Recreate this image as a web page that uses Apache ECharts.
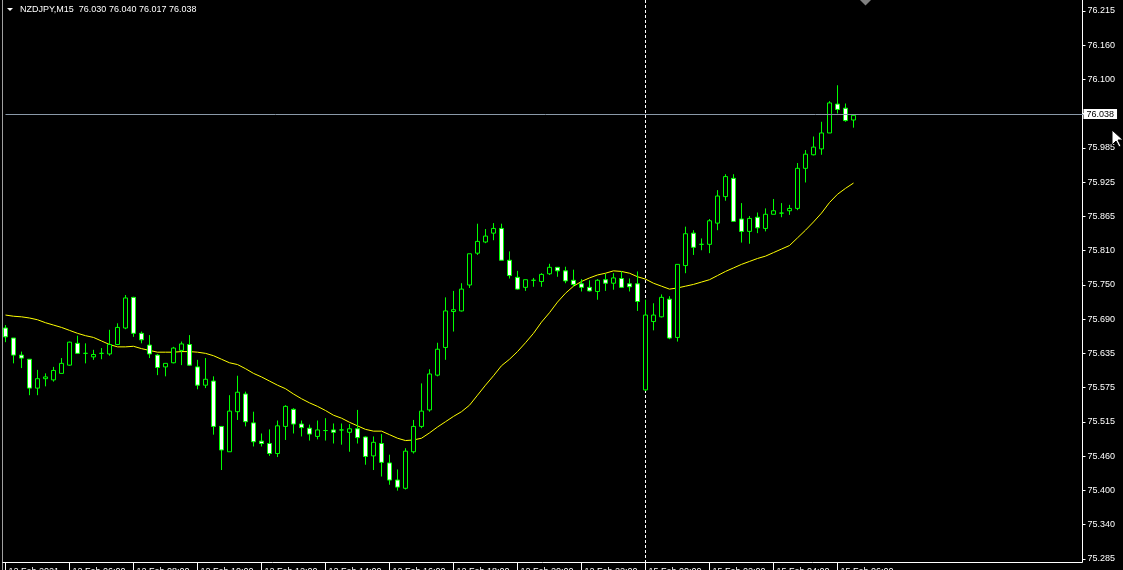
<!DOCTYPE html>
<html><head><meta charset="utf-8">
<script src="https://cdn.jsdelivr.net/npm/echarts@6/dist/echarts.min.js"></script>
<style>html,body{margin:0;padding:0;background:#000;}#c{width:1123px;height:570px;}</style>
</head><body><div id="c"></div>
<script>
const symbol = 'NZDJPY';
const timeframe = 'M15';
// trading sessions shown (day label, first bar minute-of-day, number of M15 bars)
const sessions = [
  { day: '12 Feb', startMin: 240, bars: 80 },
  { day: '15 Feb', startMin: 0, bars: 27 }
];
const futureSlots = 29;

const opens = [75.677,75.660,75.631,75.624,75.575,75.591,75.589,75.600,75.614,75.651,
75.634,75.628,75.634,75.633,75.649,75.677,75.729,75.668,75.648,75.631,
75.611,75.618,75.639,75.649,75.611,75.580,75.587,75.510,75.467,75.535,
75.565,75.516,75.485,75.481,75.464,75.510,75.539,75.514,75.507,75.493,
75.503,75.504,75.504,75.500,75.506,75.492,75.460,75.481,75.448,75.419,
75.405,75.467,75.510,75.538,75.597,75.644,75.705,75.706,75.750,75.804,
75.823,75.838,75.846,75.792,75.763,75.746,75.758,75.756,75.769,75.780,
75.774,75.758,75.752,75.746,75.739,75.759,75.753,75.761,75.752,75.752,
75.572,75.688,75.696,75.726,75.661,75.783,75.838,75.819,75.819,75.855,
75.900,75.931,75.862,75.841,75.865,75.846,75.870,75.872,75.876,75.880,
75.948,75.971,75.981,76.008,76.057,76.050,76.030];
const highs = [75.682,75.660,75.637,75.624,75.606,75.600,75.611,75.626,75.654,75.664,
75.651,75.640,75.643,75.674,75.685,75.733,75.730,75.671,75.665,75.633,
75.617,75.645,75.654,75.665,75.623,75.626,75.595,75.510,75.563,75.596,
75.569,75.535,75.498,75.505,75.520,75.546,75.541,75.520,75.513,75.520,
75.524,75.515,75.515,75.514,75.538,75.493,75.493,75.497,75.462,75.437,
75.473,75.521,75.583,75.607,75.652,75.729,75.740,75.753,75.803,75.854,
75.845,75.855,75.854,75.807,75.774,75.759,75.762,75.770,75.786,75.780,
75.781,75.776,75.760,75.758,75.760,75.769,75.770,75.773,75.761,75.773,
75.725,75.719,75.734,75.731,75.785,75.849,75.843,75.829,75.862,75.911,
75.938,75.938,75.889,75.867,75.873,75.880,75.896,75.889,75.886,75.957,
75.979,76.002,76.027,76.062,76.089,76.058,76.040];
const lows = [75.653,75.617,75.609,75.563,75.563,75.578,75.586,75.600,75.613,75.633,
75.617,75.623,75.624,75.630,75.648,75.675,75.662,75.651,75.626,75.597,
75.595,75.617,75.614,75.613,75.573,75.575,75.496,75.436,75.467,75.521,
75.510,75.476,75.476,75.460,75.458,75.487,75.498,75.493,75.486,75.488,
75.486,75.481,75.479,75.467,75.481,75.445,75.436,75.425,75.411,75.401,
75.403,75.464,75.507,75.535,75.595,75.623,75.671,75.705,75.745,75.801,
75.821,75.826,75.792,75.761,75.742,75.740,75.747,75.747,75.767,75.764,
75.753,75.747,75.739,75.739,75.725,75.740,75.742,75.745,75.739,75.706,
75.570,75.673,75.695,75.658,75.654,75.770,75.801,75.809,75.804,75.843,
75.893,75.858,75.822,75.820,75.838,75.841,75.870,75.865,75.869,75.877,
75.924,75.970,75.971,76.008,76.041,76.027,76.017];
const closes = [75.662,75.631,75.626,75.575,75.591,75.594,75.605,75.617,75.653,75.634,
75.634,75.632,75.634,75.649,75.678,75.728,75.668,75.657,75.633,75.610,
75.617,75.643,75.650,75.614,75.580,75.590,75.510,75.470,75.536,75.568,
75.518,75.484,75.481,75.464,75.511,75.544,75.514,75.508,75.497,75.504,
75.503,75.500,75.504,75.506,75.491,75.459,75.483,75.449,75.419,75.407,
75.468,75.510,75.536,75.599,75.641,75.706,75.708,75.743,75.803,75.824,
75.833,75.846,75.792,75.766,75.743,75.759,75.758,75.768,75.780,75.774,
75.757,75.751,75.746,75.740,75.758,75.753,75.762,75.746,75.747,75.722,
75.699,75.699,75.729,75.660,75.785,75.837,75.814,75.819,75.859,75.901,
75.934,75.858,75.841,75.863,75.847,75.870,75.876,75.872,75.880,75.948,
75.972,75.984,76.008,76.059,76.048,76.029,76.038];
const ma = [75.699,75.697,75.696,75.694,75.691,75.686,75.682,75.678,75.673,75.668,
75.664,75.661,75.655,75.649,75.645,75.645,75.646,75.642,75.639,75.636,
75.636,75.636,75.637,75.637,75.636,75.634,75.630,75.624,75.618,75.615,
75.608,75.600,75.594,75.587,75.580,75.574,75.565,75.557,75.550,75.544,
75.537,75.529,75.524,75.517,75.511,75.505,75.502,75.502,75.496,75.490,
75.486,75.487,75.490,75.499,75.509,75.518,75.527,75.535,75.546,75.563,
75.580,75.596,75.613,75.624,75.637,75.652,75.668,75.687,75.703,75.721,
75.736,75.748,75.756,75.762,75.767,75.770,75.774,75.773,75.770,75.764,
75.760,75.753,75.748,75.743,75.745,75.748,75.751,75.755,75.759,75.766,
75.773,75.779,75.785,75.790,75.795,75.799,75.805,75.811,75.817,75.830,
75.843,75.857,75.872,75.890,75.904,75.914,75.923];

const yTickLabels = ['75.285','75.340','75.400','75.460','75.515','75.575','75.635','75.690',
  '75.750','75.810','75.865','75.925','75.985','','76.100','76.160','76.215'];
const xTickLabels = ['12 Feb 2021','12 Feb 06:00','12 Feb 08:00','12 Feb 10:00','12 Feb 12:00',
  '12 Feb 14:00','12 Feb 16:00','12 Feb 18:00','12 Feb 20:00','12 Feb 22:00',
  '15 Feb 00:00','15 Feb 02:00','15 Feb 04:00','15 Feb 06:00'];
const yMin = 75.285, yMax = 76.215;
const barsPerLabel = 8;

// ---- build ----
const pad = n => String(n).padStart(2, '0');
const categories = [];
sessions.forEach(s => {
  for (let i = 0; i < s.bars; i++) {
    const m = s.startMin + 15 * i;
    categories.push(s.day + ' ' + pad(Math.floor(m / 60)) + ':' + pad(m % 60));
  }
});
const nBars = categories.length;
for (let i = 1; i <= futureSlots; i++) categories.push('+' + i);
const separatorIndex = sessions[0].bars;
const last = nBars - 1;
const bid = closes[last];
const yInterval = (yMax - yMin) / (yTickLabels.length - 1);
const candleData = opens.map((o, i) => [o, closes[i], lows[i], highs[i]]);
const FONT = "'Liberation Sans', Arial, sans-serif";

const chart = echarts.init(document.getElementById('c'), null, { renderer: 'canvas' });
chart.setOption({
  animation: false,
  backgroundColor: '#000000',
  textStyle: { fontFamily: FONT },
  title: {
    text: symbol + ',' + timeframe + '  ' + [opens[last], highs[last], lows[last], closes[last]].map(v => v.toFixed(3)).join(' '),
    left: 20, top: 5, padding: 0,
    textStyle: { color: '#ffffff', fontSize: 9, fontWeight: 'normal', fontFamily: FONT }
  },
  grid: { left: 5.5, right: 37.5, top: 11, bottom: 11, containLabel: false, outerBoundsMode: 'none' },
  xAxis: {
    type: 'category', data: categories, boundaryGap: false, offset: 3,
    axisLine: { show: false },
    axisTick: { show: true, length: 8, lineStyle: { color: '#ffffff' },
      interval: (i) => i % barsPerLabel === 0 && i < nBars },
    axisLabel: {
      color: '#ffffff', fontSize: 9, fontFamily: FONT, align: 'left', margin: 5, padding: [0, 0, 0, 3],
      interval: (i) => i % barsPerLabel === 0 && i < nBars,
      formatter: (v, i) => (i % barsPerLabel === 0 && i < nBars) ? (xTickLabels[i / barsPerLabel] || '') : ''
    },
    splitLine: { show: false }
  },
  yAxis: {
    type: 'value', position: 'right', offset: -3, min: yMin, max: yMax, interval: yInterval,
    axisLine: { show: false },
    axisTick: { show: true, length: 3, lineStyle: { color: '#ffffff' } },
    axisLabel: { color: '#ffffff', fontSize: 9, fontFamily: FONT, margin: 5,
      formatter: (v) => yTickLabels[Math.round((v - yMin) / yInterval)] },
    splitLine: { show: false }
  },
  series: [
    {
      type: 'line', data: ma, showSymbol: false, silent: true, z: 1,
      lineStyle: { color: '#ffff00', width: 1 }
    },
    {
      type: 'candlestick', data: candleData, barWidth: 4, clip: false, z: 2,
      itemStyle: { color: '#000000', color0: '#ffffff', borderColor: '#00ff00', borderColor0: '#00ff00', borderWidth: 1 },
      markLine: {
        silent: true, symbol: 'none', animation: false,
        lineStyle: { color: '#8a99a8', width: 1, type: 'solid' },
        label: { show: true, position: 'end', distance: -2, formatter: () => bid.toFixed(3),
          color: '#000000', backgroundColor: '#ffffff', padding: [1, 3, 0, 3], fontSize: 9, fontFamily: FONT },
        data: [{ yAxis: bid }]
      }
    },
    {
      type: 'custom', silent: true, z: 1,
      data: [[separatorIndex, bid]],
      renderItem: (params, api) => {
        const x = api.coord([api.value(0), api.value(1)])[0];
        return { type: 'line', shape: { x1: x, y1: 0, x2: x, y2: 562 },
          style: { stroke: '#ffffff', lineWidth: 1, lineDash: [3, 2] } };
      }
    }
  ],
  graphic: [
    { type: 'line', shape: { x1: 2.5, y1: 0, x2: 2.5, y2: 570 }, style: { stroke: '#a0a0a0', lineWidth: 1 } },
    { type: 'line', shape: { x1: 1082.5, y1: 0, x2: 1082.5, y2: 562.5 }, style: { stroke: '#ffffff', lineWidth: 1 } },
    { type: 'line', shape: { x1: 2.5, y1: 562.5, x2: 1082.5, y2: 562.5 }, style: { stroke: '#ffffff', lineWidth: 1 } },
    { type: 'polygon', shape: { points: [[7, 8], [13, 8], [10, 11]] }, style: { fill: '#ffffff' } },
    { type: 'polygon', shape: { points: [[860, 0], [871, 0], [865.5, 5.5]] }, style: { fill: '#808080' } },
    { type: 'polygon', z: 100, shape: { points: [[1112, 130], [1112, 145], [1116, 141], [1119, 147], [1121, 146], [1118, 140], [1123, 140]] },
      style: { fill: '#ffffff', stroke: '#000000', lineWidth: 1 } }
  ]
});
</script></body></html>
